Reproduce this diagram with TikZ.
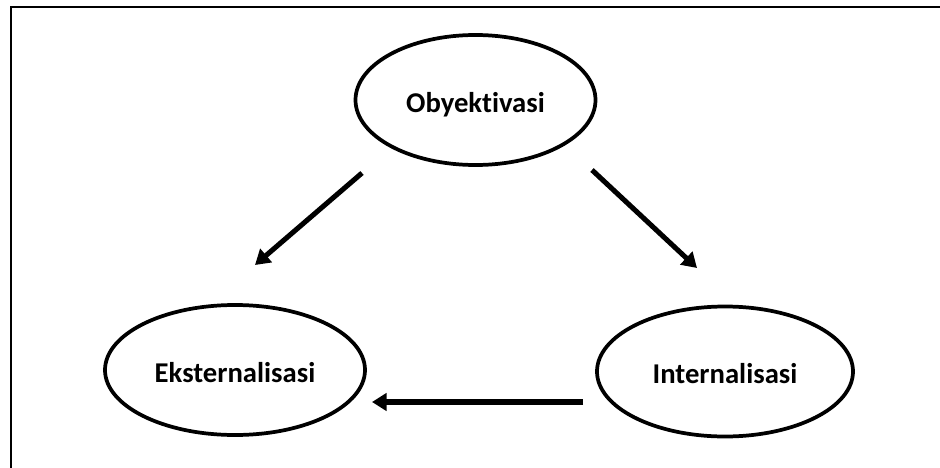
\documentclass[tikz,border=0pt]{standalone}
\usepackage{fontspec}
\setmainfont{Carlito}[Ligatures=NoCommon]
\usetikzlibrary{arrows.meta,positioning,shapes.geometric}
\tikzset{
  stage/.style={draw, ellipse, line width=2.8pt, inner sep=0pt,
                font=\fontsize{21.5}{26}\selectfont\bfseries,
                text height=20pt, text depth=2pt,
                minimum width=#1, minimum height=97.5pt},
  flow/.style={-{Triangle[length=11pt, width=13pt]}, line width=3.8pt},
  frame/.style={line width=1.3pt},
}

\begin{document}
\begin{tikzpicture}[x=0.75pt, y=-0.75pt]
  \useasboundingbox (0,0) rectangle (940,468);
  \clip (0,0) rectangle (940,468);
  % Outer frame (runs past the right and bottom edge)
  \draw[frame] (11,7) rectangle (980,500);

  % Stages
  \node[stage=180pt] (obyek) at (475.5,100) {Obyektivasi};
  \node[stage=195pt] (ekster) at (235,370) {Eksternalisasi};
  \node[stage=192pt] (inter) at (725,371.5) {Internalisasi};

  % Arrow ends
  \coordinate (obyekL) at (362,173);
  \coordinate (eksterT) at (255,265);
  \coordinate (obyekR) at (592,170);
  \coordinate (interT) at (697,268);
  \coordinate (interL) at (583,402);
  \coordinate (eksterR) at (372,402);

  % Arrows
  \draw[flow] (obyekL) -- (eksterT);
  \draw[flow] (obyekR) -- (interT);
  \draw[flow] (interL) -- (eksterR);
\end{tikzpicture}
\end{document}
